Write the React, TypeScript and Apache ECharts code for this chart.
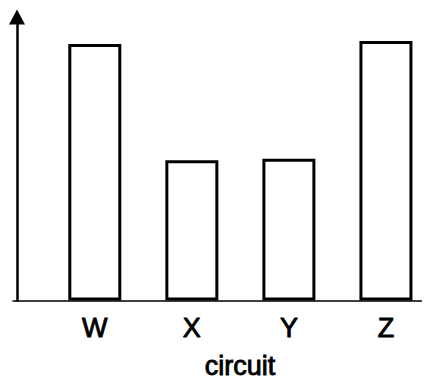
import React, { useEffect, useRef } from "react";
import * as echarts from "echarts";

const categories: string[] = ["W", "X", "Y", "Z"];
const values: number[] = [90.5, 49.5, 50, 91.5];
const positions: number[] = [0, 1, 2, 3];
const xAxisName = "circuit";

export default function App() {
  const ref = useRef<HTMLDivElement>(null);
  useEffect(() => {
    if (!ref.current) return;
    const chart = echarts.init(ref.current, undefined, { renderer: "svg" });
    const font = "'Liberation Sans', Arial, sans-serif";
    const textStyle = {
      color: "#000",
      fontSize: 27,
      fontFamily: font,
      textBorderColor: "#000",
      textBorderWidth: 0.9,
    };
    chart.setOption({
      animation: false,
      backgroundColor: "#fff",
      grid: { left: 13, right: 0, top: 17, bottom: 78, containLabel: false },
      xAxis: {
        type: "value",
        min: -0.843,
        max: 3.454,
        name: xAxisName,
        nameLocation: "middle",
        nameGap: 52,
        nameTextStyle: { ...textStyle, padding: [0, 0, 0, 37] },
        axisLine: { show: true, onZero: false, lineStyle: { color: "#000", width: 1.5 } },
        axisTick: { show: false },
        splitLine: { show: false },
        axisLabel: {
          customValues: positions,
          margin: 14,
          ...textStyle,
          formatter: (v: number) => categories[Math.round(v)] ?? "",
        },
      },
      yAxis: {
        type: "value",
        min: 0,
        max: 100,
        offset: -4,
        axisLine: {
          show: true,
          onZero: false,
          symbol: ["none", "triangle"],
          symbolSize: [16, 15],
          lineStyle: { color: "#000", width: 2.5 },
        },
        axisTick: { show: false },
        axisLabel: { show: false },
        splitLine: { show: false },
      },
      series: [
        {
          type: "bar",
          data: positions.map((p, i) => [p, values[i]]),
          barWidth: 53,
          itemStyle: { color: "#fff", borderColor: "#000", borderWidth: 3 },
        },
      ],
    });
    return () => chart.dispose();
  }, []);
  return <div ref={ref} style={{ width: 430, height: 385, margin: -8 }} />;
}
